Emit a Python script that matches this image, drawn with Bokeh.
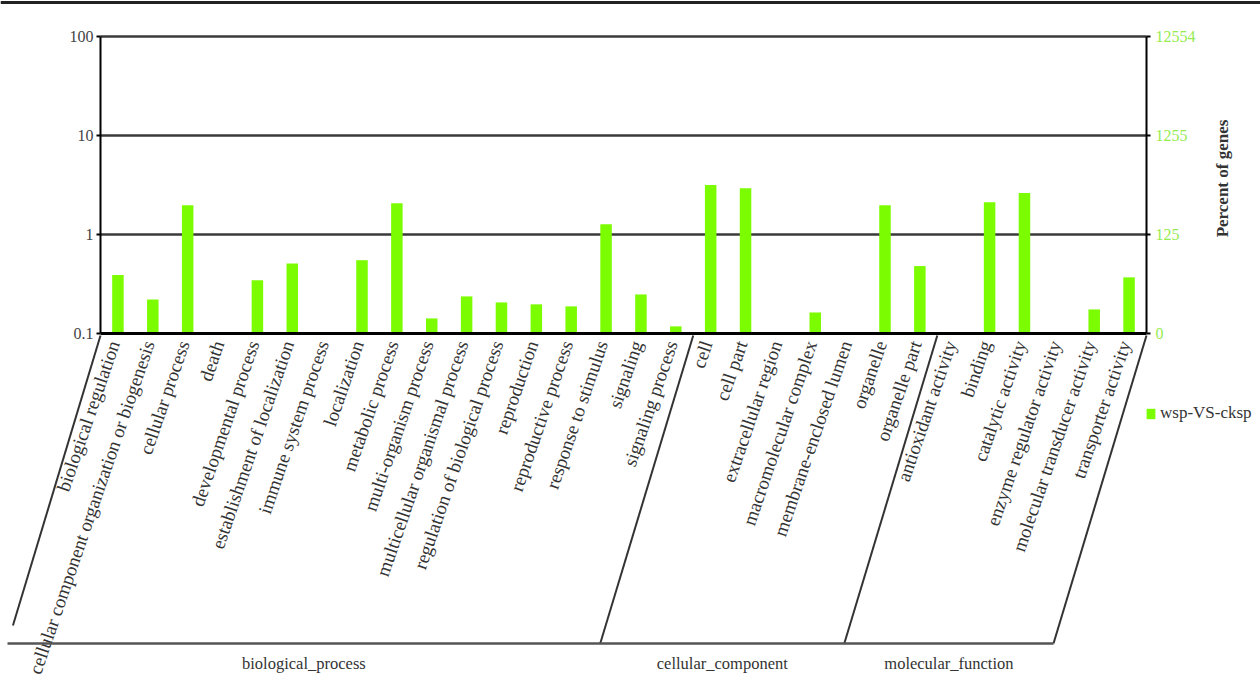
import math
import numpy as np
from bokeh.plotting import figure
from bokeh.models import (ColumnDataSource, Range1d, FixedTicker, LogAxis, LinearAxis,
                          Legend, LegendItem)
from bokeh.core.properties import value
from bokeh.transform import dodge
from bokeh.embed import file_html
from bokeh.resources import INLINE

# ---------------- data ----------------
categories = [
    "biological regulation", "cellular component organization or biogenesis",
    "cellular process", "death", "developmental process",
    "establishment of localization", "immune system process", "localization",
    "metabolic process", "multi-organism process", "multicellular organismal process",
    "regulation of biological process", "reproduction", "reproductive process",
    "response to stimulus", "signaling", "signaling process",
    "cell", "cell part", "extracellular region", "macromolecular complex",
    "membrane-enclosed lumen", "organelle", "organelle part",
    "antioxidant activity", "binding", "catalytic activity",
    "enzyme regulator activity", "molecular transducer activity", "transporter activity",
]
groups = ["biological_process", "cellular_component", "molecular_function"]
group_sizes = [17, 7, 6]
percent = [0.39, 0.22, 1.98, 0, 0.345, 0.51, 0, 0.55, 2.07, 0.142, 0.237, 0.206,
           0.197, 0.188, 1.27, 0.248, 0.118,
           3.16, 2.94, 0, 0.163, 0, 1.98, 0.48,
           0, 2.12, 2.62, 0, 0.175, 0.369]
left_ticks = [0.1, 1, 10, 100]
left_tick_labels = ["0.1", "1", "10", "100"]
right_tick_labels = ["0", "125", "1255", "12554"]
series_name = "wsp-VS-cksp"
right_title = "Percent of genes"

# ---------------- geometry (pixels of the page) ----------------
W, H = 1260, 690
FL, FR, FT, FB = 100, 1146, 36, 333   # plot area edges
N = len(categories)
GREEN = "#7CFC00"
FONT = "Liberation Serif"
YMIN, YMAX = left_ticks[0], left_ticks[-1]
DECADES = math.log10(YMAX / YMIN)


def dx(px):
    return (px - FL) / (FR - FL) * N


def dy(py):
    return YMIN * 10 ** ((FB - py) / (FB - FT) * DECADES)


def dx_px(x):
    return FL + x / N * (FR - FL)


p = figure(width=W, height=H,
           x_range=Range1d(dx(0), dx(W)), y_range=Range1d(dy(H), dy(0)),
           y_axis_type="log", x_axis_location=None, y_axis_location=None,
           output_backend="svg", toolbar_location=None,
           min_border=0, min_border_left=0, min_border_right=0,
           min_border_top=0, min_border_bottom=0)
p.title.visible = False
p.background_fill_color = "white"
p.border_fill_color = "white"
p.outline_line_color = None
p.xgrid.visible = False
p.ygrid.visible = False

# horizontal grid lines inside the plot area
grid_y = left_ticks[1:]
p.segment(x0=[0] * len(grid_y), x1=[N] * len(grid_y), y0=grid_y, y1=grid_y,
          line_color="#3a3a3a", line_width=2.5)

# bars
idx = np.arange(N) + 0.5
tops = [v if v > 0 else np.nan for v in percent]
src = ColumnDataSource(dict(x=idx, top=tops, cat=categories))
bars = p.vbar(x="x", top="top", bottom=YMIN, width=0.33, source=src,
              fill_color=GREEN, line_color=None)

# left axis
ya = LogAxis(fixed_location=0, bounds=(YMIN, YMAX),
             ticker=FixedTicker(ticks=left_ticks, minor_ticks=[]))
ya.major_label_overrides = {t: s for t, s in zip(left_ticks, left_tick_labels)}
ya.major_label_text_font = FONT
ya.major_label_text_font_size = "16px"
ya.major_label_text_color = "#444444"
ya.axis_line_color = "black"
ya.axis_line_width = 2
ya.major_tick_out = 4
ya.major_tick_in = 0
ya.major_tick_line_width = 2
ya.minor_tick_line_color = None
ya.major_label_standoff = 3
p.add_layout(ya, "left")

# right axis
ra = LogAxis(fixed_location=N, bounds=(YMIN, YMAX),
             ticker=FixedTicker(ticks=left_ticks, minor_ticks=[]))
ra.major_label_overrides = {t: s for t, s in zip(left_ticks, right_tick_labels)}
ra.major_label_text_font = FONT
ra.major_label_text_font_size = "16px"
ra.major_label_text_color = "#95EC50"
ra.axis_line_color = "black"
ra.axis_line_width = 2
ra.major_tick_out = 4
ra.major_tick_in = 0
ra.major_tick_line_width = 2
ra.minor_tick_line_color = None
ra.major_label_standoff = 5
p.add_layout(ra, "right")

# bottom axis line
xa = LinearAxis(fixed_location=YMIN, bounds=(0, N), ticker=FixedTicker(ticks=[]))
xa.axis_line_color = "black"
xa.axis_line_width = 3
xa.major_tick_line_color = None
xa.minor_tick_line_color = None
p.add_layout(xa, "below")

# right-side title
p.text(x=[dx(1222)], y=[dy(178)], text=[right_title], angle=math.pi / 2,
       text_align="center", text_baseline="middle", text_font=value(FONT),
       text_font_size="17px", text_font_style="bold", text_color="#333333")

# category labels (rotated)
ANG = math.radians(71)
p.text(x=dodge("x", -4 / (FR - FL) * N), y=dy(341), text="cat", source=src, angle=ANG,
       text_align="right", text_baseline="middle", text_font=value(FONT),
       text_font_size="19px", text_color="#333333")

# group brackets
SHIFT_X, BOT = -93, 643
bounds = [0]
for s in group_sizes:
    bounds.append(bounds[-1] + s)

sx0, sy0, sx1, sy1 = [], [], [], []
for k, b in enumerate(bounds):
    bx = dx_px(b)
    sx0.append(dx(bx))
    sy0.append(dy(335))
    if k == 0:
        sx1.append(dx(bx + SHIFT_X * (290 / 308)))
        sy1.append(dy(625))
    else:
        sx1.append(dx(bx + SHIFT_X))
        sy1.append(dy(BOT))
p.segment(x0=sx0, y0=sy0, x1=sx1, y1=sy1, line_color="#333333", line_width=2)
p.segment(x0=[dx(dx_px(0) + SHIFT_X)], x1=[dx(dx_px(N) + SHIFT_X)],
          y0=[dy(BOT)], y1=[dy(BOT)], line_color="#555555", line_width=2.5)

gx = [dx((dx_px(a) + dx_px(b)) / 2 + SHIFT_X) for a, b in zip(bounds[:-1], bounds[1:])]
p.text(x=gx, y=[dy(663)] * len(groups), text=groups, text_align="center",
       text_baseline="middle", text_font=value(FONT), text_font_size="16.5px",
       text_color="#333333")

# top border line of the image
p.segment(x0=[dx(0)], x1=[dx(W)], y0=[dy(2)], y1=[dy(2)], line_color="#222222", line_width=3)

# legend
legend = Legend(items=[LegendItem(label=series_name, renderers=[bars])],
                location=(1145, H - 406 - 17),
                label_text_font=FONT, label_text_font_size="17px",
                label_text_color="#333333", glyph_width=11, glyph_height=13,
                label_height=13, padding=0, margin=0, border_line_color=None,
                background_fill_alpha=0, label_standoff=4)
p.add_layout(legend)

open("out.html", "w").write(file_html(p, INLINE))
